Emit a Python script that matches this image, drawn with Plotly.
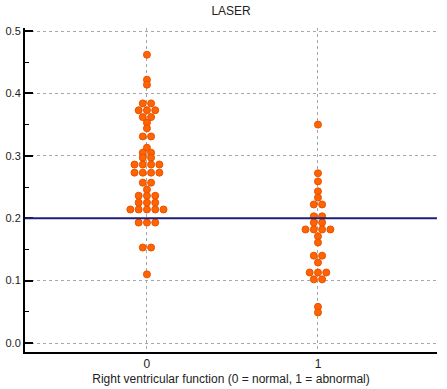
import plotly.graph_objects as go
from collections import Counter

# Data (LASER value per patient)
categories = [0, 1]
tick_labels = ["0", "1"]
laser_normal = [0.462, 0.422, 0.414, 0.384, 0.384, 0.373, 0.373, 0.373,
                0.362, 0.362, 0.353, 0.344, 0.331, 0.331, 0.313, 0.305, 0.305,
                0.297, 0.297, 0.286, 0.286, 0.286, 0.286, 0.273, 0.273, 0.273, 0.273,
                0.257, 0.257, 0.246, 0.236, 0.236, 0.236, 0.225, 0.225, 0.225,
                0.214, 0.214, 0.214, 0.214, 0.214, 0.193, 0.193, 0.193,
                0.153, 0.153, 0.110]
laser_abnormal = [0.350, 0.272, 0.259, 0.243, 0.233, 0.222, 0.222, 0.203, 0.203,
                  0.193, 0.193, 0.182, 0.182, 0.182, 0.182, 0.171, 0.161,
                  0.140, 0.140, 0.129, 0.113, 0.113, 0.113, 0.102, 0.102,
                  0.058, 0.049]
cutoff = 0.2
yticks = [0.0, 0.1, 0.2, 0.3, 0.4, 0.5]

SPACING = 0.0485  # horizontal spacing between dots in a row (x-axis units)


def dot_layout(center, values):
    counts = Counter(values)
    seen = Counter()
    xs = []
    for v in values:
        n = counts[v]
        i = seen[v]
        seen[v] += 1
        xs.append(center + (i - (n - 1) / 2) * SPACING)
    return xs


fig = go.Figure()
for cat, vals in zip(categories, [laser_normal, laser_abnormal]):
    fig.add_trace(go.Scatter(
        x=dot_layout(cat, vals), y=vals, mode="markers",
        marker=dict(size=7, color="#FF6400", line=dict(color="#E85200", width=1)),
        showlegend=False, hoverinfo="y"))

fig.add_shape(type="line", xref="paper", x0=0, x1=1, yref="y", y0=cutoff, y1=cutoff,
              line=dict(color="#1F1F7A", width=2), layer="above")

fig.update_layout(
    width=447, height=389,
    margin=dict(l=25, r=10, t=28, b=37, autoexpand=False),
    paper_bgcolor="white", plot_bgcolor="white",
    font=dict(family="Liberation Sans, Arial, sans-serif", size=12, color="#222"),
    title=dict(text="LASER", x=0.517, xanchor="center", y=0.972, yanchor="middle",
               font=dict(size=12, color="#222")),
    xaxis=dict(range=[-0.713, 1.696], tickvals=categories, ticktext=tick_labels,
               showgrid=True, gridcolor="#A8A8A8", griddash="dot", gridwidth=1,
               showline=True, linecolor="black", linewidth=2, ticks="",
               zeroline=False, tickfont=dict(size=12, color="#222"), automargin=False,
               title=dict(text="Right ventricular function (0 = normal, 1 = abnormal)",
                          font=dict(size=12, color="#222"), standoff=4)),
    yaxis=dict(range=[-0.0144, 0.5048], tickvals=yticks, tickformat=".1f",
               showgrid=True, gridcolor="#A8A8A8", griddash="dot", gridwidth=1,
               showline=True, linecolor="black", linewidth=2, automargin=False,
               ticks="inside", ticklen=8, tickwidth=2, tickcolor="black",
               minor=dict(ticks="inside", dtick=0.05, ticklen=4, tickwidth=1,
                          tickcolor="black", showgrid=False),
               zeroline=False, tickfont=dict(size=11, color="#222")),
)

fig.write_html("out.html", config={"displayModeBar": False},
               post_script="document.body.style.margin='0';")
